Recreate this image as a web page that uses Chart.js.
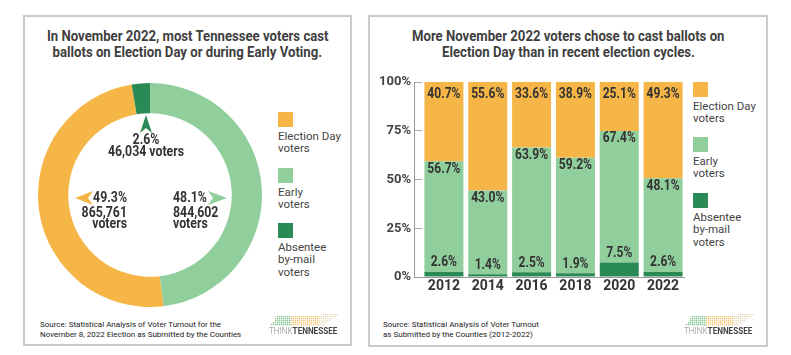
<!DOCTYPE html>
<html><head><meta charset="utf-8">
<script src="https://cdn.jsdelivr.net/npm/chart.js@4.4.1/dist/chart.umd.min.js"></script>
<style>
html,body{margin:0;padding:0;background:#fff;}
body{width:791px;height:355px;position:relative;overflow:hidden;font-family:Roboto,"Liberation Sans",Arial,sans-serif;}
.panel{position:absolute;border:2px solid #cbcbcb;box-sizing:border-box;background:#fff;}
.title{position:absolute;text-align:center;font-weight:700;font-size:14px;line-height:16px;color:#3f3f3f;white-space:nowrap;}
.title span{display:inline-block;transform:scaleX(0.94);transform-origin:center;}
.leg-sq{position:absolute;width:15px;height:15px;}
.leg-tx{position:absolute;font-size:11.5px;line-height:12.3px;color:#444;white-space:nowrap;}
.src{position:absolute;font-size:8px;line-height:9.5px;color:#222;white-space:nowrap;}
.logo-tx{position:absolute;font-size:9px;line-height:10px;white-space:nowrap;transform:scaleX(0.9);transform-origin:left top;}
canvas{position:absolute;}
</style></head>
<body>
<div class="panel" style="left:23px;top:15px;width:329px;height:331px;"></div>
<div class="panel" style="left:368px;top:15px;width:400px;height:332px;"></div>
<div class="title" id="t1" style="left:23px;top:28px;width:329px;"></div>
<div class="title" id="t2" style="left:368px;top:28px;width:400px;"></div>
<canvas id="donut" width="224" height="224" style="left:38px;top:83px;"></canvas>
<canvas id="bars" width="320" height="230" style="left:370px;top:70px;"></canvas>
<div id="legends"></div>
<div class="src" id="s1" style="left:40px;top:320px;"></div>
<div class="src" id="s2" style="left:383px;top:320px;"></div>
<canvas id="logo1" width="72" height="14" style="left:268px;top:313px;"></canvas>
<canvas id="logo2" width="72" height="14" style="left:683px;top:313px;"></canvas>
<div class="logo-tx" style="left:269px;top:326px;"><span style="color:#888;font-weight:300">THINK</span><span style="color:#444;font-weight:700">TENNESSEE</span></div>
<div class="logo-tx" style="left:684px;top:326px;"><span style="color:#888;font-weight:300">THINK</span><span style="color:#444;font-weight:700">TENNESSEE</span></div>
<script>
// ---------- data ----------
const titleLeft = ['In November 2022, most Tennessee voters cast', 'ballots on Election Day or during Early Voting.'];
const titleRight = ['More November 2022 voters chose to cast ballots on', 'Election Day than in recent election cycles.'];
const sourceLeft = ['Source: Statistical Analysis of Voter Turnout for the', 'November 8, 2022 Election as Submitted by the Counties'];
const sourceRight = ['Source: Statistical Analysis of Voter Turnout', 'as Submitted by the Counties (2012-2022)'];

const donutCategories = ['Early voters', 'Election Day voters', 'Absentee by-mail voters'];
const donutVotes = [844602, 865761, 46034];
const donutPct = [48.1, 49.3, 2.6];

const years = ['2012', '2014', '2016', '2018', '2020', '2022'];
const electionDayPct = [40.7, 55.6, 33.6, 38.9, 25.1, 49.3];
const earlyPct = [56.7, 43.0, 63.9, 59.2, 67.4, 48.1];
const absenteePct = [2.6, 1.4, 2.5, 1.9, 7.5, 2.6];
const yTickValues = [0, 25, 50, 75, 100];

const legendLines = [['Election Day', 'voters'], ['Early', 'voters'], ['Absentee', 'by-mail', 'voters']];

// ---------- style ----------
const ORANGE = '#F5B647', LIGHT = '#90CE9C', DARK = '#2A8A55';
const legendColors = [ORANGE, LIGHT, DARK];
const FONT = 'Roboto, "Liberation Sans", Arial, sans-serif';

function fillLines(id, lines) {
  document.getElementById(id).innerHTML = lines.map(l => '<span>' + l + '</span>').join('<br>');
}
fillLines('t1', titleLeft); fillLines('t2', titleRight);
document.getElementById('s1').innerHTML = sourceLeft.join('<br>');
document.getElementById('s2').innerHTML = sourceRight.join('<br>');

function buildLegend(x, tops) {
  let h = '';
  legendLines.forEach((lines, i) => {
    h += '<div class="leg-sq" style="left:' + x + 'px;top:' + tops[i] + 'px;background:' + legendColors[i] + '"></div>';
    h += '<div class="leg-tx" style="left:' + x + 'px;top:' + (tops[i] + 18) + 'px;">' + lines.join('<br>') + '</div>';
  });
  return h;
}
document.getElementById('legends').innerHTML = buildLegend(278, [112, 168, 223]) + buildLegend(693, [82, 137, 193]);

// ---------- helpers ----------
function condText(ctx, s, x, y, align, font, sx) {
  ctx.save(); ctx.translate(x, y); ctx.scale(sx, 1);
  ctx.font = font; ctx.textAlign = align; ctx.textBaseline = 'middle';
  ctx.fillText(s, 0, 0); ctx.restore();
}
function chevron(ctx, tx, ty, dir, len, half, notch, color) {
  ctx.save(); ctx.fillStyle = color; ctx.beginPath();
  if (dir === 'up') {
    ctx.moveTo(tx, ty); ctx.lineTo(tx + half, ty + len); ctx.lineTo(tx, ty + len - notch); ctx.lineTo(tx - half, ty + len);
  } else if (dir === 'left') {
    ctx.moveTo(tx, ty); ctx.lineTo(tx + len, ty - half); ctx.lineTo(tx + len - notch, ty); ctx.lineTo(tx + len, ty + half);
  } else {
    ctx.moveTo(tx, ty); ctx.lineTo(tx - len, ty - half); ctx.lineTo(tx - len + notch, ty); ctx.lineTo(tx - len, ty + half);
  }
  ctx.closePath(); ctx.fill(); ctx.restore();
}
const fmt = n => n.toLocaleString('en-US');

// ---------- doughnut ----------
const donutNotes = {
  id: 'donutNotes',
  afterDraw(chart) {
    const ctx = chart.ctx;
    const arc = chart.getDatasetMeta(0).data[0];
    const cx = arc.x, cy = arc.y;
    const f = 'bold 14px ' + FONT, sx = 0.88;
    ctx.save(); ctx.fillStyle = '#333';
    condText(ctx, donutPct[2].toFixed(1) + '%', cx - 4, cy - 55, 'center', f, sx);
    condText(ctx, fmt(donutVotes[2]) + ' voters', cx - 4, cy - 43, 'center', f, sx);
    chevron(ctx, cx - 4, cy - 80, 'up', 18, 6, 5, DARK);
    ctx.fillStyle = '#333';
    condText(ctx, donutPct[1].toFixed(1) + '%', cx - 23, cy + 3, 'right', f, sx);
    condText(ctx, fmt(donutVotes[1]), cx - 23, cy + 18, 'right', f, sx);
    condText(ctx, 'voters', cx - 23, cy + 29, 'right', f, sx);
    chevron(ctx, cx - 75, cy + 3, 'left', 18, 7, 5, ORANGE);
    ctx.fillStyle = '#333';
    condText(ctx, donutPct[0].toFixed(1) + '%', cx + 23, cy + 3, 'left', f, sx);
    condText(ctx, fmt(donutVotes[0]), cx + 23, cy + 18, 'left', f, sx);
    condText(ctx, 'voters', cx + 23, cy + 29, 'left', f, sx);
    chevron(ctx, cx + 77, cy + 3, 'right', 19, 7, 5, LIGHT);
    ctx.restore();
  }
};
new Chart(document.getElementById('donut'), {
  type: 'doughnut',
  data: { labels: donutCategories, datasets: [{ data: donutVotes, backgroundColor: [LIGHT, ORANGE, DARK], borderWidth: 0 }] },
  options: {
    responsive: false, animation: false, devicePixelRatio: 1, cutout: '73%',
    layout: { padding: 0 },
    plugins: { legend: { display: false }, tooltip: { enabled: false } }
  },
  plugins: [donutNotes]
});

// ---------- bars ----------
const labelOffsets = [-9, 8, 12];
const barLabels = {
  id: 'barLabels',
  afterDatasetsDraw(chart) {
    const ctx = chart.ctx;
    ctx.save(); ctx.fillStyle = '#333';
    chart.data.datasets.forEach((ds, i) => {
      chart.getDatasetMeta(i).data.forEach((el, j) => {
        condText(ctx, ds.data[j].toFixed(1) + '%', el.x, el.y + labelOffsets[i], 'center', 'bold 14px ' + FONT, 0.86);
      });
    });
    ctx.restore();
  }
};
const axisLines = {
  id: 'axisLines',
  afterDraw(chart) {
    const { left, right, top, bottom } = chart.chartArea;
    const ctx = chart.ctx;
    ctx.save(); ctx.strokeStyle = '#9a9a9a'; ctx.lineWidth = 1;
    const ax = Math.round(left - 8) + 0.5, by = Math.round(bottom) + 0.5;
    ctx.beginPath(); ctx.moveTo(ax, top); ctx.lineTo(ax, by); ctx.lineTo(right, by); ctx.stroke();
    ctx.restore();
  }
};
new Chart(document.getElementById('bars'), {
  type: 'bar',
  data: {
    labels: years,
    datasets: [
      { label: 'Absentee by-mail voters', data: absenteePct, backgroundColor: DARK },
      { label: 'Early voters', data: earlyPct, backgroundColor: LIGHT },
      { label: 'Election Day voters', data: electionDayPct, backgroundColor: ORANGE }
    ]
  },
  options: {
    responsive: false, animation: false, devicePixelRatio: 1,
    layout: { padding: { top: 12, right: 5, left: 0, bottom: 0 } },
    datasets: { bar: { categoryPercentage: 1, barPercentage: 0.89, borderWidth: 0 } },
    plugins: { legend: { display: false }, tooltip: { enabled: false } },
    scales: {
      x: {
        stacked: true, grid: { display: false, drawTicks: false }, border: { display: false },
        ticks: { font: { family: FONT, weight: 'bold', size: 14 }, color: '#333', padding: 1 },
        afterFit(s) { s.height = 23; }
      },
      y: {
        stacked: true, min: 0, max: 100,
        afterFit(s) { s.width = 52; },
        afterBuildTicks(s) { s.ticks = yTickValues.map(v => ({ value: v })); },
        grid: { drawOnChartArea: false, tickLength: 8, color: '#a8a8a8' },
        border: { display: false },
        ticks: { callback: v => v + '%', font: { family: FONT, weight: 'bold', size: 13 }, color: '#444', padding: 3 }
      }
    }
  },
  plugins: [barLabels, axisLines]
});

// ---------- logo dots ----------
function drawLogo(id) {
  const c = document.getElementById(id), ctx = c.getContext('2d');
  const poly = [[2, 13], [9, 3], [71, 1], [66, 5], [59, 9], [56, 13]];
  ctx.beginPath(); poly.forEach((p, i) => i ? ctx.lineTo(p[0], p[1]) : ctx.moveTo(p[0], p[1])); ctx.closePath();
  for (let y = 1; y < 14; y += 2) {
    for (let x = 1; x < 72; x += 2) {
      if (!ctx.isPointInPath(x + 0.5, y + 0.5)) continue;
      ctx.fillStyle = x < 22 ? '#7cc48b' : (x < 50 ? '#f6c874' : '#e6dcc0');
      ctx.fillRect(x, y, 1.3, 1.3);
    }
  }
}
drawLogo('logo1'); drawLogo('logo2');
</script>
</body></html>
